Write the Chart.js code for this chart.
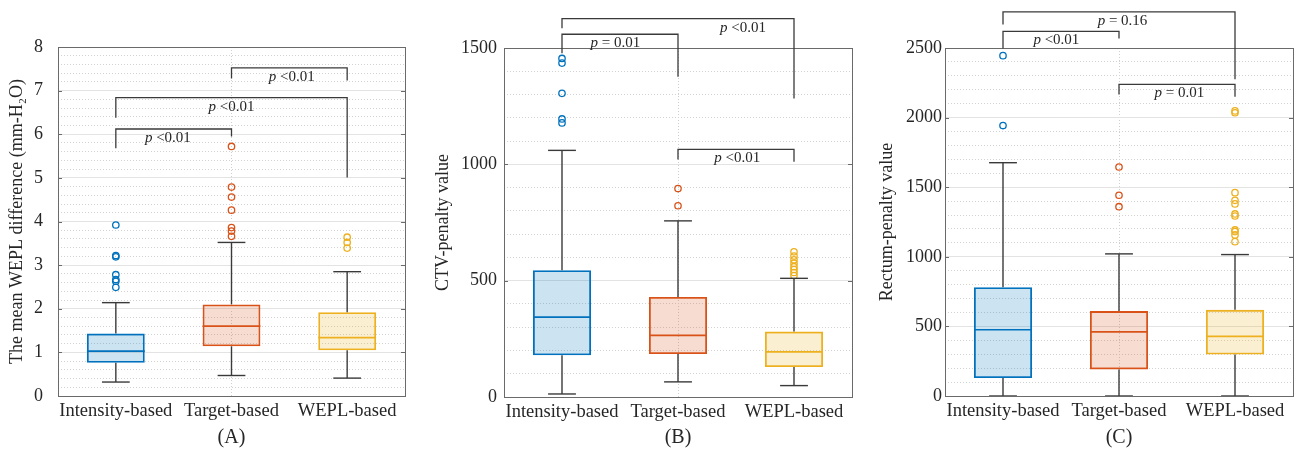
<!DOCTYPE html>
<html>
<head>
<meta charset="utf-8">
<script src="https://cdn.jsdelivr.net/npm/chart.js@4.4.1/dist/chart.umd.min.js"></script>
<style>
  html, body { margin: 0; padding: 0; background: #ffffff; }
  #wrap { position: relative; width: 1311px; height: 453px; overflow: hidden; }
  canvas { position: absolute; top: 0; }
</style>
</head>
<body>
<div id="wrap">
  <canvas id="cA" width="430" height="453" style="left:0px"></canvas>
  <canvas id="cB" width="430" height="453" style="left:430px"></canvas>
  <canvas id="cC" width="451" height="453" style="left:860px"></canvas>
</div>
<script>
// ---------------- DATA ----------------
const categories = ['Intensity-based', 'Target-based', 'WEPL-based'];

// Panel (A): mean WEPL difference
const aQ1 = [0.76, 1.14, 1.05];
const aMedian = [1.03, 1.60, 1.34];
const aQ3 = [1.43, 2.10, 1.92];
const aLowWhisker = [0.32, 0.47, 0.41];
const aHighWhisker = [2.14, 3.52, 2.85];
const aOutIntensity = [3.92, 3.22, 3.19, 2.78, 2.67, 2.63, 2.49];
const aOutTarget = [5.72, 4.79, 4.56, 4.26, 3.86, 3.78, 3.66];
const aOutWepl = [3.64, 3.52, 3.39];
const aYTicks = [0, 1, 2, 3, 4, 5, 6, 7, 8];
// [from, to, top, left leg end, right leg end, label position, p-value]
const aBrackets = [
  [0, 1, 6.12, 5.68, 5.95, 0.45, '<0.01'],
  [0, 2, 6.84, 6.38, 5.01, 1.00, '<0.01'],
  [1, 2, 7.52, 7.28, 7.23, 1.52, '<0.01']
];

// Panel (B): CTV-penalty value
const bQ1 = [179, 185, 129];
const bMedian = [343, 265, 194];
const bQ3 = [545, 430, 281];
const bLowWhisker = [13, 65, 49];
const bHighWhisker = [1060, 757, 510];
const bOutIntensity = [1455, 1435, 1305, 1195, 1178];
const bOutTarget = [896, 822];
const bOutWepl = [624, 606, 590, 575, 560, 548, 535, 522];
const bYTicks = [0, 500, 1000, 1500];
const bBrackets = [
  [0, 1, 1559, 1477, 1376, 0.46, '= 0.01'],
  [0, 2, 1626, 1585, 1283, 1.56, '<0.01'],
  [1, 2, 1064, 1021, 1011, 1.51, '<0.01']
];

// Panel (C): Rectum-penalty value
const cQ1 = [129, 191, 298];
const cMedian = [476, 461, 428];
const cQ3 = [782, 610, 619];
const cLowWhisker = [0, 0, 0];
const cHighWhisker = [1676, 1021, 1016];
const cOutIntensity = [2445, 1943];
const cOutTarget = [1645, 1442, 1360];
const cOutWepl = [2048, 2035, 1461, 1406, 1380, 1308, 1293, 1193, 1181, 1157, 1109];
const cYTicks = [0, 500, 1000, 1500, 2000, 2500];
const cBrackets = [
  [0, 1, 2620, 2496, 2568, 0.46, '<0.01'],
  [0, 2, 2759, 2669, 2276, 1.03, '= 0.16'],
  [1, 2, 2238, 2166, 2149, 1.52, '= 0.01']
];

// ---------------- STYLE ----------------
const FONT = "'Liberation Serif', 'Times New Roman', Times, serif";
const strokes = ['#0072BD', '#D95319', '#EDB120'];
const fills = ['rgba(0,114,189,0.2)', 'rgba(217,83,25,0.2)', 'rgba(237,177,32,0.2)'];
const TEXT = '#262626';
Chart.defaults.font.family = FONT;
Chart.defaults.color = TEXT;

const boxExtras = {
  id: 'boxExtras',
  afterDatasetsDraw(chart) {
    const st = chart.config.options.plugins.boxExtras;
    const { ctx } = chart;
    const x = chart.scales.x, y = chart.scales.y;
    const cw = x.width / categories.length;
    ctx.save();
    ctx.lineCap = 'butt';
    const seg = (x1, y1, x2, y2) => { ctx.beginPath(); ctx.moveTo(x1, y1); ctx.lineTo(x2, y2); ctx.stroke(); };
    for (let i = 0; i < categories.length; i++) {
      const cx = x.getPixelForValue(i);
      ctx.strokeStyle = '#3a3a3a';
      ctx.lineWidth = 1.4;
      seg(cx, y.getPixelForValue(st.q3[i]), cx, y.getPixelForValue(st.hi[i]));
      seg(cx - cw * 0.12, y.getPixelForValue(st.hi[i]), cx + cw * 0.12, y.getPixelForValue(st.hi[i]));
      seg(cx, y.getPixelForValue(st.q1[i]), cx, y.getPixelForValue(st.lo[i]));
      seg(cx - cw * 0.12, y.getPixelForValue(st.lo[i]), cx + cw * 0.12, y.getPixelForValue(st.lo[i]));
      ctx.strokeStyle = strokes[i];
      ctx.lineWidth = 1.7;
      seg(cx - cw * 0.25, y.getPixelForValue(st.med[i]), cx + cw * 0.25, y.getPixelForValue(st.med[i]));
    }
    ctx.restore();
  },
  afterDraw(chart) {
    const st = chart.config.options.plugins.boxExtras;
    const { ctx, chartArea: a } = chart;
    const x = chart.scales.x, y = chart.scales.y;
    ctx.save();
    // axes frame
    ctx.strokeStyle = '#6a6a6a';
    ctx.lineWidth = 1;
    ctx.strokeRect(Math.round(a.left) + 0.5, Math.round(a.top) + 0.5, Math.round(a.right - a.left), Math.round(a.bottom - a.top));
    // inward tick marks
    st.ticks.forEach(v => {
      const py = Math.round(y.getPixelForValue(v)) + 0.5;
      ctx.beginPath();
      ctx.moveTo(a.left, py); ctx.lineTo(a.left + 4, py);
      ctx.moveTo(a.right, py); ctx.lineTo(a.right - 4, py);
      ctx.stroke();
    });
    // significance brackets
    ctx.strokeStyle = '#3a3a3a';
    ctx.lineWidth = 1.3;
    st.brackets.forEach(b => {
      const x1 = x.getPixelForValue(b[0]), x2 = x.getPixelForValue(b[1]);
      const yt = y.getPixelForValue(b[2]);
      ctx.beginPath();
      ctx.moveTo(x1, y.getPixelForValue(b[3]));
      ctx.lineTo(x1, yt);
      ctx.lineTo(x2, yt);
      ctx.lineTo(x2, y.getPixelForValue(b[4]));
      ctx.stroke();
      const lx = x.getPixelForValue(b[5]);
      const fi = 'italic 15px ' + FONT, fn = '15px ' + FONT;
      ctx.font = fi; const w1 = ctx.measureText('p ').width;
      ctx.font = fn; const w2 = ctx.measureText(b[6]).width;
      const sx = lx - (w1 + w2) / 2;
      ctx.fillStyle = TEXT;
      ctx.textBaseline = 'middle';
      ctx.textAlign = 'left';
      ctx.font = fi; ctx.fillText('p', sx, yt + 9);
      ctx.font = fn; ctx.fillText(b[6], sx + w1, yt + 9);
    });
    ctx.restore();
  }
};

function makeChart(id, s) {
  const datasets = [{
    type: 'bar',
    data: s.q1.map((v, i) => [v, s.q3[i]]),
    backgroundColor: fills,
    borderColor: strokes,
    borderWidth: 1.8,
    borderSkipped: false,
    barPercentage: 0.5,
    categoryPercentage: 1,
    order: 2
  }];
  s.outs.forEach((arr, i) => {
    datasets.push({
      type: 'line',
      data: arr.map(v => ({ x: categories[i], y: v })),
      showLine: false,
      pointRadius: 3.2,
      pointHoverRadius: 3.2,
      pointBorderWidth: 1.3,
      pointBorderColor: strokes[i],
      pointBackgroundColor: 'rgba(255,255,255,0)',
      order: 1
    });
  });
  const ymax = s.ticks[s.ticks.length - 1];
  const major = s.ticks[1] - s.ticks[0];
  return new Chart(document.getElementById(id), {
    data: { labels: categories, datasets },
    options: {
      responsive: false,
      devicePixelRatio: 1,
      animation: false,
      events: [],
      layout: { padding: { top: s.padTop, right: s.padRight, left: 0, bottom: 0 } },
      plugins: {
        legend: { display: false },
        tooltip: { enabled: false },
        boxExtras: { q1: s.q1, q3: s.q3, med: s.med, lo: s.lo, hi: s.hi, brackets: s.brackets, ticks: s.ticks }
      },
      scales: {
        x: {
          type: 'category',
          offset: true,
          grid: {
            offset: false,
            drawTicks: false,
            color: c => (c.index === 1 ? '#cfcfcf' : 'rgba(0,0,0,0)'),
            lineWidth: 1
          },
          border: { display: false, dash: [1, 2] },
          ticks: { padding: 4, font: { size: 18.5 }, color: TEXT, maxRotation: 0, minRotation: 0, autoSkip: false },
          title: { display: true, text: s.xTitle, font: { size: 20 }, color: TEXT, padding: { top: 0, bottom: 3 } },
          afterFit: sc => { sc.height = s.xHeight; }
        },
        y: {
          type: 'linear',
          position: 'left',
          min: 0,
          max: ymax,
          afterBuildTicks: sc => { sc.ticks = s.ticks.map(v => ({ value: v })); },
          grid: { color: '#e3e3e3', lineWidth: 1, drawTicks: false },
          border: { display: false },
          ticks: { padding: s.tickPad, font: { size: 18 }, color: TEXT, callback: v => String(v) },
          title: { display: true, text: s.yTitle, font: { size: 18 }, color: TEXT, padding: { top: s.titlePad, bottom: 0 } },
          afterFit: sc => { sc.width = s.yWidth; }
        },
        yMinor: {
          type: 'linear',
          position: 'left',
          min: 0,
          max: ymax,
          ticks: { display: false, stepSize: s.minor },
          grid: {
            drawTicks: false,
            lineWidth: 1,
            color: c => {
              const v = c.tick ? c.tick.value : 0;
              const r = v / major;
              return Math.abs(r - Math.round(r)) < 1e-6 ? 'rgba(0,0,0,0)' : '#d2d2d2';
            }
          },
          border: { display: false, dash: [1, 2] },
          afterFit: sc => { sc.width = 0; }
        }
      }
    },
    plugins: [boxExtras]
  });
}

makeChart('cA', {
  q1: aQ1, med: aMedian, q3: aQ3, lo: aLowWhisker, hi: aHighWhisker,
  outs: [aOutIntensity, aOutTarget, aOutWepl], ticks: aYTicks, minor: 0.2, brackets: aBrackets,
  yTitle: 'The mean WEPL difference (mm-H\u2082O)', xTitle: '(A)',
  padTop: 47, padRight: 25, yWidth: 58, xHeight: 57, tickPad: 15, titlePad: 6
});
makeChart('cB', {
  q1: bQ1, med: bMedian, q3: bQ3, lo: bLowWhisker, hi: bHighWhisker,
  outs: [bOutIntensity, bOutTarget, bOutWepl], ticks: bYTicks, minor: 100, brackets: bBrackets,
  yTitle: 'CTV-penalty value', xTitle: '(B)',
  padTop: 48, padRight: 8, yWidth: 74, xHeight: 56, tickPad: 7, titlePad: 2
});
makeChart('cC', {
  q1: cQ1, med: cMedian, q3: cQ3, lo: cLowWhisker, hi: cHighWhisker,
  outs: [cOutIntensity, cOutTarget, cOutWepl], ticks: cYTicks, minor: 100, brackets: cBrackets,
  yTitle: 'Rectum-penalty value', xTitle: '(C)',
  padTop: 48, padRight: 18, yWidth: 85, xHeight: 57, tickPad: 3, titlePad: 16
});
</script>
</body>
</html>
